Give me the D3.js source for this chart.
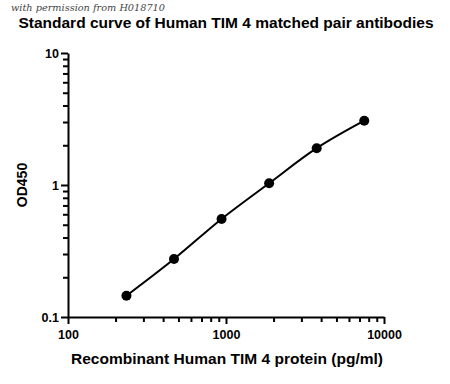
<!DOCTYPE html>
<html>
<head>
<meta charset="utf-8">
<script src="https://cdn.jsdelivr.net/npm/d3@7"></script>
<style>
  body { margin: 0; background: #fff; }
  text { font-family: "Liberation Sans", Arial, sans-serif; }
</style>
</head>
<body>
<div id="chart"></div>
<script>
// concentrations (pg/ml) and OD450 readings
var conc = [234.375, 468.75, 937.5, 1875, 3750, 7500];
var od = [0.145, 0.275, 0.553, 1.03, 1.9, 3.07];
var xTicks = [100, 1000, 10000];
var yTicks = [0.1, 1, 10];

var width = 450, height = 384;
var margin = { top: 53, right: 66, bottom: 67, left: 68 };

var svg = d3.select("#chart").append("svg")
    .attr("width", width)
    .attr("height", height);

var x = d3.scaleLog().domain([100, 10000]).range([margin.left, width - margin.right]);
var y = d3.scaleLog().domain([0.1, 10]).range([height - margin.bottom, margin.top]);

// minor ticks for each decade
function minors(lo, hi) {
    var out = [];
    for (var d = lo; d < hi; d *= 10) {
        for (var k = 2; k <= 9; k++) out.push(d * k);
    }
    return out;
}

// x axis
var xAxis = svg.append("g").attr("transform", "translate(0," + y(0.1) + ")");
xAxis.append("g")
    .call(d3.axisBottom(x).tickValues(minors(100, 10000)).tickSize(5).tickFormat(""))
    .call(function (g) { g.select(".domain").remove(); });
xAxis.append("g")
    .call(d3.axisBottom(x).tickValues(xTicks).tickSize(7).tickSizeOuter(0).tickPadding(6).tickFormat(d3.format("d")));

// y axis
var yAxis = svg.append("g").attr("transform", "translate(" + x(100) + ",0)");
yAxis.append("g")
    .call(d3.axisLeft(y).tickValues(minors(0.1, 10)).tickSize(5).tickFormat(""))
    .call(function (g) { g.select(".domain").remove(); });
yAxis.append("g")
    .call(d3.axisLeft(y).tickValues(yTicks).tickSize(7).tickSizeOuter(0).tickPadding(2).tickFormat(function (d) { return d; }));

svg.selectAll(".domain, .tick line")
    .attr("stroke", "#000")
    .attr("stroke-width", 2);
svg.selectAll(".tick text")
    .attr("font-size", 12.5)
    .attr("font-weight", "bold")
    .attr("fill", "#000");

// fitted curve
var line = d3.line()
    .x(function (d, i) { return x(conc[i]); })
    .y(function (d) { return y(d); })
    .curve(d3.curveCatmullRom);

svg.append("path")
    .datum(od)
    .attr("d", line)
    .attr("fill", "none")
    .attr("stroke", "#000")
    .attr("stroke-width", 2);

svg.selectAll("circle.pt")
    .data(od)
    .enter().append("circle")
    .attr("class", "pt")
    .attr("cx", function (d, i) { return x(conc[i]); })
    .attr("cy", function (d) { return y(d); })
    .attr("r", 5)
    .attr("fill", "#000");

// labels
svg.append("text")
    .attr("x", 226)
    .attr("y", 28)
    .attr("text-anchor", "middle")
    .attr("font-size", 15.5)
    .attr("font-weight", "bold")
    .text("Standard curve of Human TIM 4 matched pair antibodies");

// watermark sits just above the title
svg.append("text")
    .attr("x", 11)
    .attr("y", 11)
    .attr("font-size", 9.5)
    .attr("font-style", "italic")
    .attr("fill", "#444")
    .attr("textLength", 154)
    .attr("lengthAdjust", "spacingAndGlyphs")
    .style("font-family", "'DejaVu Serif', serif")
    .text("with permission from H018710");

svg.append("text")
    .attr("x", 227)
    .attr("y", 364)
    .attr("text-anchor", "middle")
    .attr("font-size", 14)
    .attr("font-weight", "bold")
    .attr("textLength", 312)
    .attr("lengthAdjust", "spacingAndGlyphs")
    .text("Recombinant Human TIM 4 protein (pg/ml)");

svg.append("text")
    .attr("transform", "translate(27," + y(1) + ") rotate(-90)")
    .attr("text-anchor", "middle")
    .attr("font-size", 14)
    .attr("font-weight", "bold")
    .text("OD450");
</script>
</body>
</html>
